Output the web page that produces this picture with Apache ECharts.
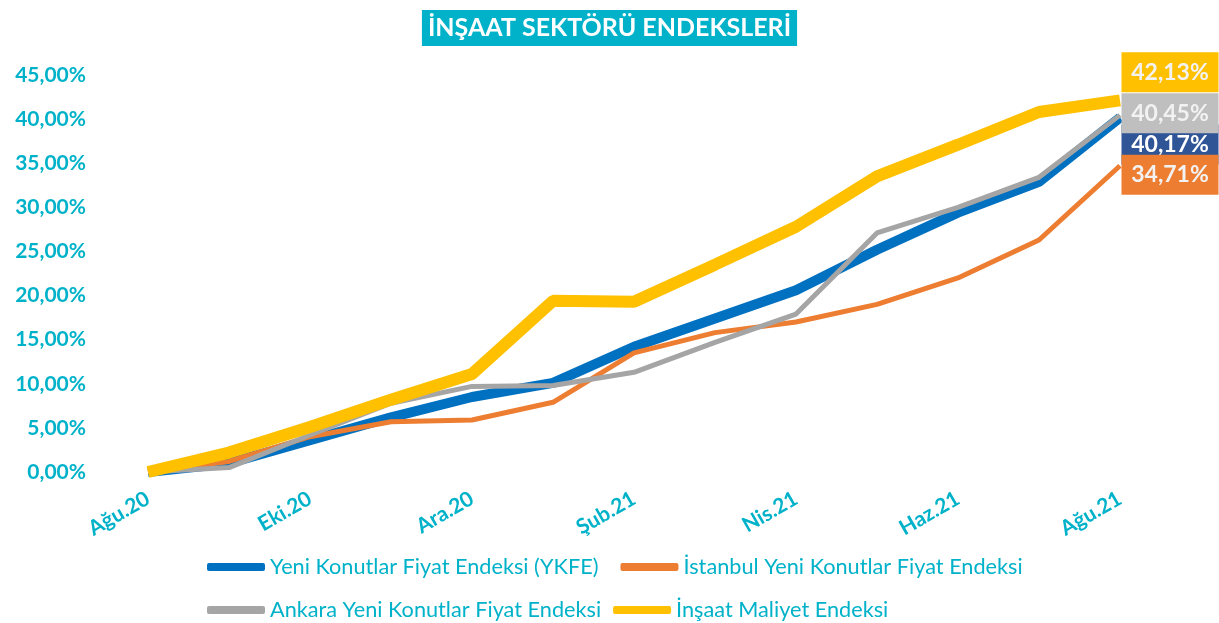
<!DOCTYPE html>
<html>
<head>
<meta charset="utf-8">
<script src="https://cdn.jsdelivr.net/npm/echarts@6/dist/echarts.min.js"></script>
<style>
  html, body { margin: 0; padding: 0; background: #fff; }
  #chart { width: 1219px; height: 623px; }
</style>
</head>
<body>
<div id="chart"></div>
<script>
// aylar (Ağu.20 - Ağu.21)
var months = ["Ağu.20", "Eyl.20", "Eki.20", "Kas.20", "Ara.20", "Oca.21", "Şub.21",
  "Mar.21", "Nis.21", "May.21", "Haz.21", "Tem.21", "Ağu.21"];

var ykfe     = [0, 1.0, 3.6, 6.2, 8.5, 10.1, 14.2, 17.4, 20.6, 25.2, 29.4, 32.9, 40.17];
var istanbul = [0, 1.2, 4.0, 5.7, 5.9, 7.9, 13.5, 15.8, 17.0, 19.0, 22.0, 26.3, 34.71];
var ankara   = [0, 0.5, 4.2, 7.8, 9.7, 9.8, 11.3, 14.7, 17.9, 27.1, 30.0, 33.4, 40.45];
var maliyet  = [0, 2.2, 5.1, 8.2, 11.1, 19.4, 19.3, 23.5, 27.8, 33.5, 37.1, 40.8, 42.13];

var yTicks = [0, 5, 10, 15, 20, 25, 30, 35, 40, 45];

var teal = "#00b2c9";

function fmt(v) {
  return v.toFixed(2).replace(".", ",") + "%";
}

// son noktadaki kutulu etiket
function endLabel(bg, txtColor, dy) {
  return {
    show: true,
    distance: 0,
    offset: [50, dy],
    formatter: function (p) { return fmt(p.value); },
    fontFamily: "Lato",
    fontWeight: "bold",
    fontSize: 23,
    color: txtColor,
    backgroundColor: bg,
    width: 81,
    align: "center",
    lineHeight: 24,
    padding: [8, 8]
  };
}

var myChart = echarts.init(document.getElementById("chart"));

myChart.setOption({
  animation: false,
  title: {
    text: "İNŞAAT SEKTÖRÜ ENDEKSLERİ",
    left: "center",
    top: 10,
    padding: [5, 6],
    backgroundColor: teal,
    textStyle: {
      color: "#fff",
      fontFamily: "Lato",
      fontWeight: "bold",
      fontSize: 25,
      lineHeight: 26
    }
  },
  legend: [
    {
      left: 202,
      top: 551,
      itemWidth: 58,
      itemHeight: 8,
      itemGap: 22,
      icon: "roundRect",
      textStyle: { color: teal, fontFamily: "Lato", fontSize: 21.7 },
      data: ["Yeni Konutlar Fiyat Endeksi (YKFE)", "İstanbul Yeni Konutlar Fiyat Endeksi"]
    },
    {
      left: 202,
      top: 594,
      itemWidth: 58,
      itemHeight: 8,
      itemGap: 12,
      icon: "roundRect",
      textStyle: { color: teal, fontFamily: "Lato", fontSize: 21.7 },
      data: ["Ankara Yeni Konutlar Fiyat Endeksi", "İnşaat Maliyet Endeksi"]
    }
  ],
  grid: {
    left: 148,
    right: 99,
    top: 75,
    bottom: 151
  },
  xAxis: {
    type: "category",
    data: months,
    boundaryGap: false,
    axisLine: { show: false },
    axisTick: { show: false },
    axisLabel: {
      interval: 1,
      rotate: 30,
      margin: 25,
      color: teal,
      fontFamily: "Lato",
      fontWeight: "bold",
      fontSize: 21
    }
  },
  yAxis: {
    type: "value",
    min: yTicks[0],
    max: yTicks[yTicks.length - 1],
    interval: 5,
    splitLine: { show: false },
    axisLine: { show: false },
    axisTick: { show: false },
    axisLabel: {
      margin: 62,
      color: teal,
      fontFamily: "Lato",
      fontWeight: "bold",
      fontSize: 21,
      formatter: function (v) { return fmt(v); }
    }
  },
  series: [
    {
      name: "Yeni Konutlar Fiyat Endeksi (YKFE)",
      type: "line",
      symbol: "none",
      lineStyle: { width: 10, color: "#0070c0" },
      itemStyle: { color: "#0070c0" },
      endLabel: endLabel("#2f5597", "#fff", 27),
      data: ykfe
    },
    {
      name: "İstanbul Yeni Konutlar Fiyat Endeksi",
      type: "line",
      symbol: "none",
      lineStyle: { width: 5, color: "#ed7d31" },
      itemStyle: { color: "#ed7d31" },
      endLabel: endLabel("#ed7d31", "#f2f2f2", 9),
      data: istanbul
    },
    {
      name: "Ankara Yeni Konutlar Fiyat Endeksi",
      type: "line",
      symbol: "none",
      lineStyle: { width: 5, color: "#a5a5a5" },
      itemStyle: { color: "#a5a5a5" },
      endLabel: endLabel("#bfbfbf", "#f2f2f2", -2),
      data: ankara
    },
    {
      name: "İnşaat Maliyet Endeksi",
      type: "line",
      symbol: "none",
      lineStyle: { width: 12, color: "#ffc000" },
      itemStyle: { color: "#ffc000" },
      endLabel: endLabel("#ffc000", "#f2f2f2", -28),
      data: maliyet
    }
  ]
});
</script>
</body>
</html>
